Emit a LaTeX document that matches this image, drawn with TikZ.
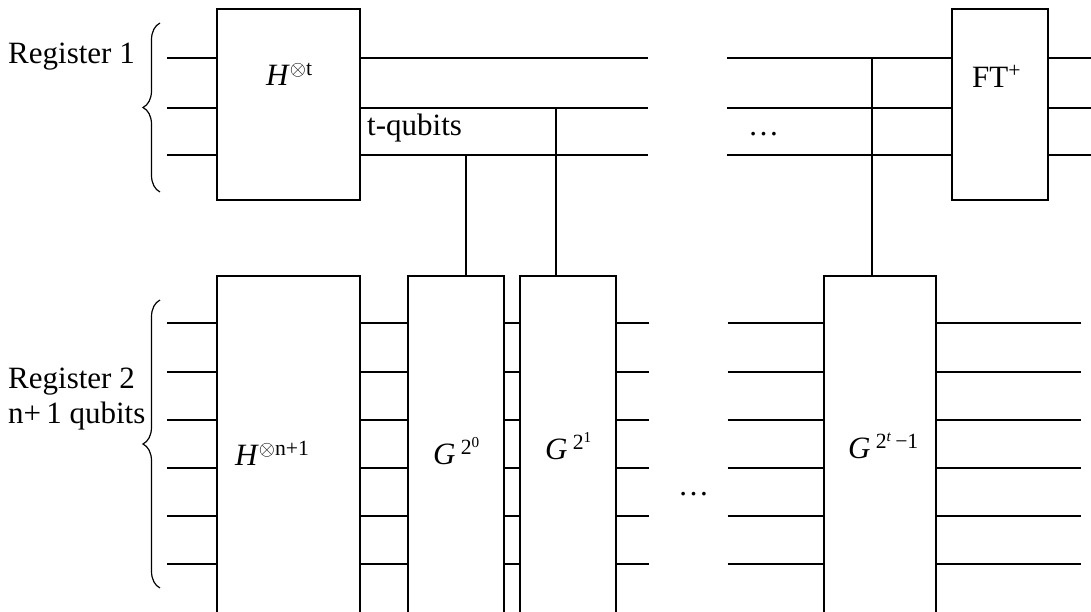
\documentclass[tikz,border=0pt]{standalone}
\usepackage{fontspec}
\setmainfont{Liberation Serif}
\usetikzlibrary{decorations.pathreplacing}
\begin{document}
\begin{tikzpicture}[x=1pt,y=-1pt,
  gate/.style={draw, line width=1.9pt, rectangle, inner sep=0pt, outer sep=0pt, anchor=north west},
  wire/.style={line width=1.9pt},
  lbl/.style={inner sep=0pt, anchor=base west, font=\fontsize{31}{37}\selectfont},
  brc/.style={decorate, decoration={brace, amplitude=17pt}, line width=1.2pt}]
\useasboundingbox (0,0) rectangle (1091,611);
\clip (0,0) rectangle (1091,611);
% gates
\node[gate, minimum width=143.3pt, minimum height=191pt] (h1) at (216.7,9) {};
\node[gate, minimum width=96pt, minimum height=191pt] (ft) at (952,9) {};
\node[gate, minimum width=143.3pt, minimum height=360pt] (h2) at (216.7,276) {};
\node[gate, minimum width=96.6pt, minimum height=360pt] (g0) at (407.7,276) {};
\node[gate, minimum width=96pt, minimum height=360pt] (g1) at (520,276) {};
\node[gate, minimum width=112pt, minimum height=360pt] (gl) at (824,276) {};
% register 1 wires
\foreach \y in {58,108,155}{
  \draw[wire] (167,\y) -- (h1.west |- 0,\y);
  \draw[wire] (h1.east |- 0,\y) -- (648,\y);
  \draw[wire] (727,\y) -- (ft.west |- 0,\y);
  \draw[wire] (ft.east |- 0,\y) -- (1095,\y);
}
% register 2 wires
\foreach \y in {323,372,420,468,516,564}{
  \draw[wire] (167,\y) -- (h2.west |- 0,\y);
  \draw[wire] (h2.east |- 0,\y) -- (g0.west |- 0,\y);
  \draw[wire] (g0.east |- 0,\y) -- (g1.west |- 0,\y);
  \draw[wire] (g1.east |- 0,\y) -- (648.7,\y);
  \draw[wire] (727.7,\y) -- (gl.west |- 0,\y);
  \draw[wire] (gl.east |- 0,\y) -- (1081,\y);
}
% controls
\coordinate (c0) at (466,155);
\coordinate (c1) at (556,108);
\coordinate (c2) at (872,58);
\draw[wire] (c0) -- (c0 |- g0.north);
\draw[wire] (c1) -- (c1 |- g1.north);
\draw[wire] (c2) -- (c2 |- gl.north);
% braces
\draw[brc] (160,192) -- (160,23);
\draw[brc] (160,588) -- (160,300);
% labels
\node[lbl] (r1) at (8,63) {Register 1};
\node[lbl] (r2) at (8,388) {Register 2};
\node[lbl] (r2b) at (8,423) {n+\,1 qubits};
\node[lbl] (tq) at (367,135) {t-qubits};
\node[lbl] (lh1) at (266,85) {\textit{H}\textsuperscript{$\otimes$t}};
\node[lbl] (lft) at (972,87) {FT\textsuperscript{+}};
\node[lbl] (lh2) at (235,465) {\textit{H}\textsuperscript{$\otimes$n+1}};
\node[lbl] (lg0) at (433,464) {\textit{G}\,\textsuperscript{2\textsuperscript{0}}};
\node[lbl] (lg1) at (545,459) {\textit{G}\,\textsuperscript{2\textsuperscript{1}}};
\node[lbl] (lgl) at (848,458) {\textit{G}\,\textsuperscript{2\textsuperscript{\textit{t}}\,−1}};
\node[lbl] (d1) at (748,135) {…};
\node[lbl] (d2) at (678,495) {…};
\end{tikzpicture}
\end{document}
